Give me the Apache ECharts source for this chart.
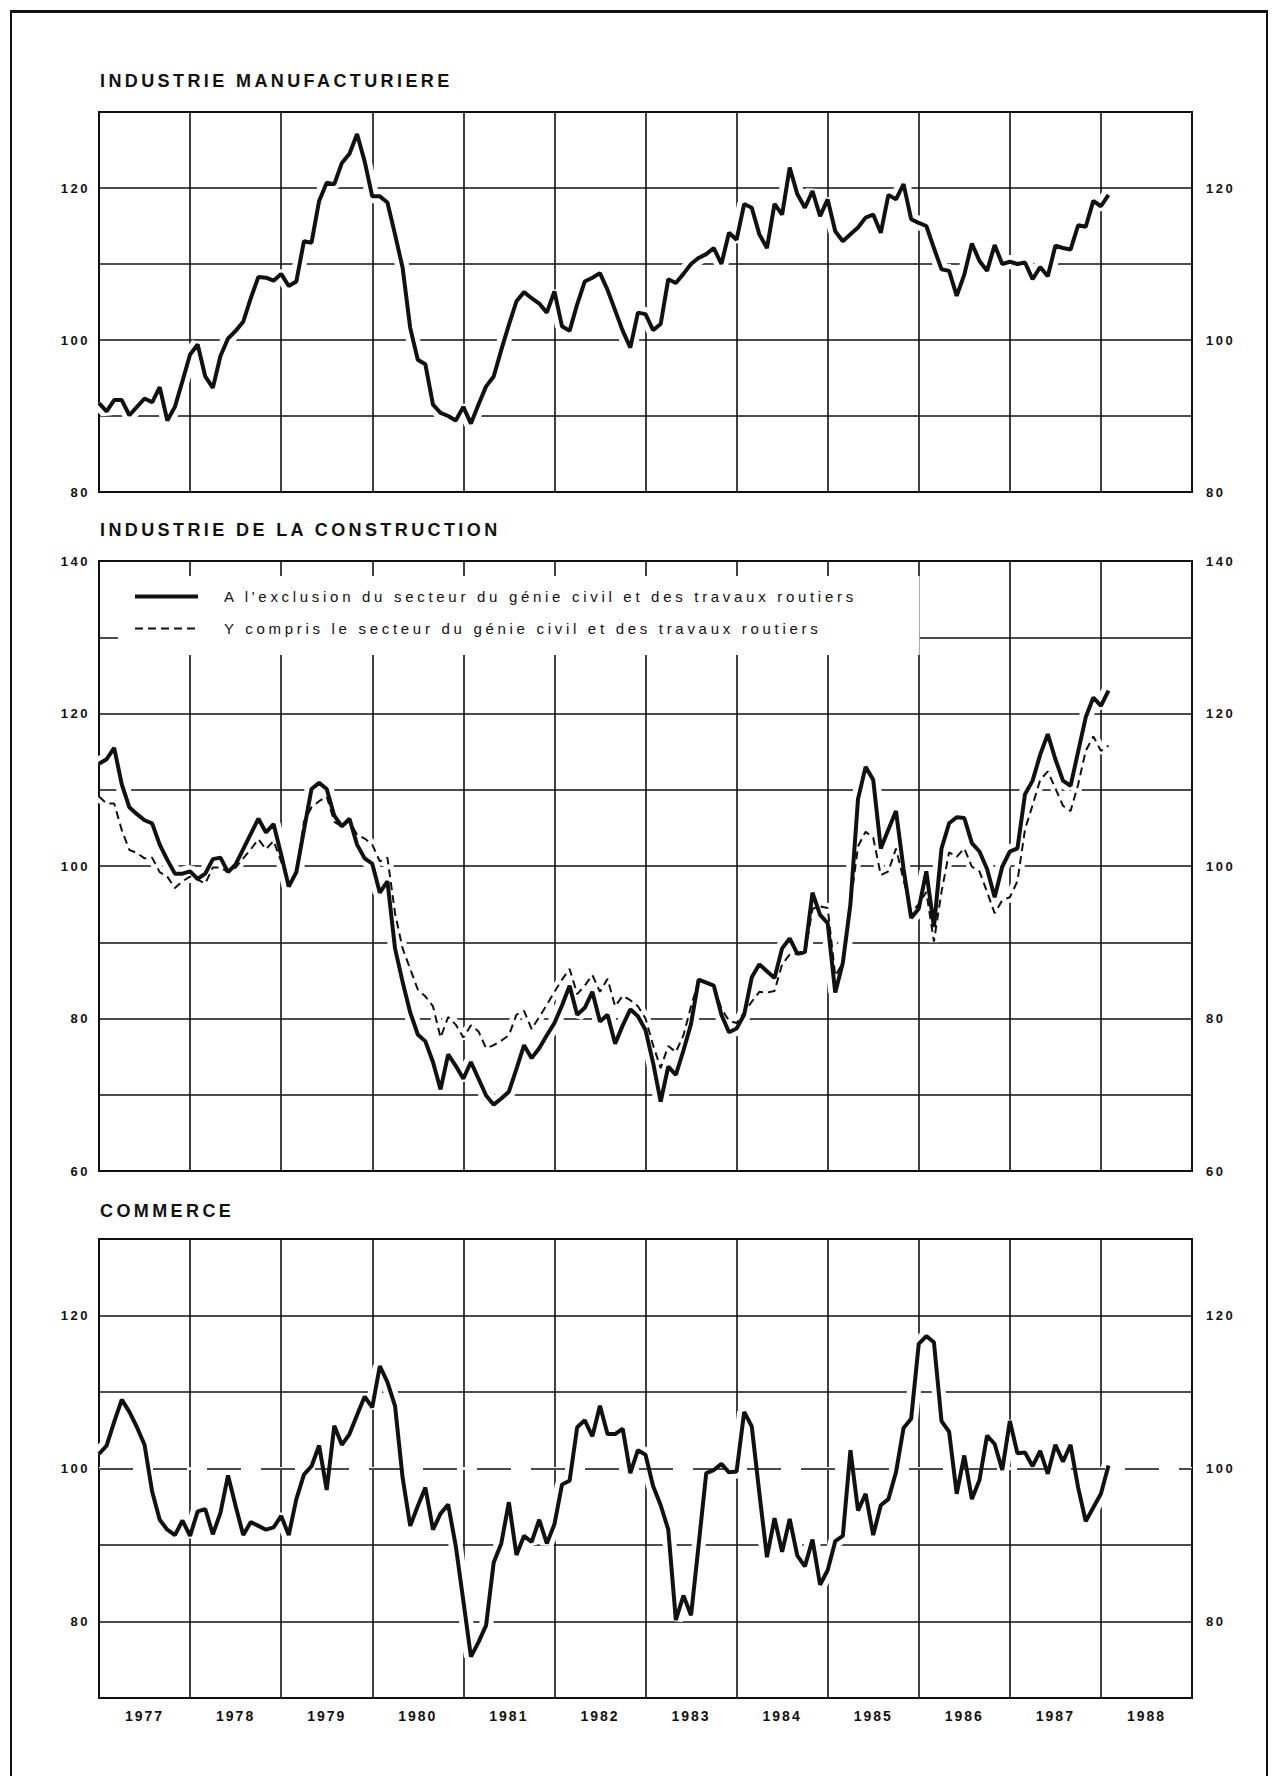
<!DOCTYPE html>
<html>
<head>
<meta charset="utf-8">
<script src="https://cdn.jsdelivr.net/npm/echarts@6/dist/echarts.min.js"></script>
<style>
html,body{margin:0;padding:0;background:#fff;}
#frame{position:absolute;left:10px;top:10px;width:1254px;height:1800px;border-top:3px solid #111;border-left:2px solid #111;border-right:2px solid #111;}
#chart{position:absolute;left:0;top:0;width:1274px;height:1776px;}
#chart text[style*="18px"]{letter-spacing:3.4px;}
#chart text[style*="15px"]{letter-spacing:3.7px;}
#chart text[style*="13px"]{letter-spacing:2.5px;}
#chart text[style*="14px"]{letter-spacing:2px;}
</style>
</head>
<body>
<div id="frame"></div>
<div id="chart"></div>
<script>
// ---- data (monthly, January 1977 .. February 1988) ----
const startYear = 1977;
const yearLabels = ['1977','1978','1979','1980','1981','1982','1983','1984','1985','1986','1987','1988'];

const titles = ['INDUSTRIE MANUFACTURIERE', 'INDUSTRIE DE LA CONSTRUCTION', 'COMMERCE'];
const legendExcl = "A l'exclusion du secteur du génie civil et des travaux routiers";
const legendIncl = "Y compris le secteur du génie civil et des travaux routiers";

const manufacturing = [
  91.7, 90.6, 92.1, 92.1, 90.1, 91.2, 92.3, 91.8, 93.8, 89.4, 91.2, 94.6,
  98.1, 99.4, 95.2, 93.7, 97.9, 100.2, 101.2, 102.4, 105.5, 108.3, 108.2, 107.8,
  108.7, 107.1, 107.7, 113.0, 112.8, 118.3, 120.7, 120.5, 123.3, 124.5, 127.1, 123.5,
  118.9, 118.9, 118.1, 113.9, 109.5, 101.6, 97.4, 96.8, 91.5, 90.4, 90.0, 89.4,
  91.2, 89.0, 91.5, 93.9, 95.2, 98.7, 102.0, 105.1, 106.3, 105.5, 104.8, 103.6,
  106.4, 101.8, 101.2, 104.7, 107.7, 108.2, 108.8, 106.6, 103.9, 101.2, 99.0, 103.6,
  103.4, 101.3, 102.1, 108.0, 107.5, 108.7, 110.0, 110.8, 111.3, 112.1, 110.0, 114.1,
  113.2, 117.9, 117.4, 113.9, 112.1, 117.9, 116.5, 122.7, 119.2, 117.4, 119.6, 116.3,
  118.5, 114.3, 113.0, 113.9, 114.8, 116.1, 116.5, 114.1, 119.1, 118.5, 120.5, 115.9,
  115.4, 115.0, 112.1, 109.3, 109.1, 105.8, 108.6, 112.7, 110.4, 109.1, 112.5, 110.0,
  110.3, 110.0, 110.2, 108.0, 109.6, 108.4, 112.4, 112.1, 111.9, 115.1, 114.9, 118.3,
  117.6, 119.1
];

const constructionExcl = [
  113.4, 114.0, 115.5, 110.7, 107.7, 106.8, 106.0, 105.6, 102.8, 100.8, 99.0, 99.0,
  99.3, 98.3, 99.0, 100.9, 101.1, 99.2, 100.2, 102.2, 104.2, 106.2, 104.4, 105.5,
  101.5, 97.3, 99.2, 104.7, 110.1, 110.9, 110.1, 106.6, 105.2, 106.2, 102.8, 101.0,
  100.3, 96.5, 98.0, 89.2, 84.8, 80.8, 77.9, 77.0, 74.3, 70.7, 75.3, 73.8,
  72.1, 74.3, 72.1, 69.9, 68.7, 69.5, 70.4, 73.4, 76.5, 74.8, 76.1, 77.8,
  79.4, 81.7, 84.3, 80.5, 81.4, 83.5, 79.6, 80.5, 76.7, 79.1, 81.2, 80.3,
  78.5, 74.2, 69.1, 73.7, 72.6, 75.8, 79.3, 85.1, 84.7, 84.3, 80.5, 78.2,
  78.7, 80.5, 85.4, 87.1, 86.2, 85.3, 89.2, 90.5, 88.5, 88.7, 96.5, 93.6,
  92.5, 83.4, 87.3, 95.0, 108.8, 113.0, 111.3, 102.3, 104.8, 107.2, 99.6, 93.2,
  94.4, 99.3, 92.0, 102.3, 105.6, 106.4, 106.3, 103.0, 101.9, 99.6, 95.9, 99.9,
  101.9, 102.3, 109.4, 111.2, 114.6, 117.3, 114.0, 111.2, 110.5, 115.0, 119.5, 122.1,
  121.0, 123.0
];

const constructionIncl = [
  109.1, 108.2, 108.2, 104.7, 102.1, 101.7, 101.0, 101.1, 99.2, 98.6, 97.1, 98.0,
  98.6, 98.2, 97.7, 99.8, 99.8, 99.2, 99.8, 101.0, 102.2, 103.5, 102.2, 103.3,
  100.6, 97.6, 99.2, 105.8, 107.7, 108.5, 109.1, 105.8, 105.2, 105.9, 104.1, 103.6,
  102.8, 100.6, 101.1, 93.8, 89.2, 86.5, 83.8, 82.9, 81.6, 77.5, 80.2, 79.2,
  77.5, 79.1, 78.3, 76.1, 76.5, 77.1, 77.8, 80.5, 81.0, 78.6, 80.2, 81.8,
  83.5, 85.1, 86.5, 83.2, 84.3, 85.7, 83.5, 85.2, 81.6, 83.0, 82.4, 81.6,
  80.0, 76.5, 73.5, 76.4, 75.6, 77.8, 81.6, 84.9, 84.7, 84.3, 81.3, 79.7,
  79.4, 80.8, 82.2, 83.5, 83.4, 83.6, 87.1, 88.4, 88.5, 88.4, 94.4, 94.7,
  94.5, 85.6, 87.3, 95.0, 102.6, 104.5, 103.7, 98.8, 99.3, 102.3, 98.2, 93.9,
  95.0, 96.6, 90.1, 96.6, 101.8, 101.2, 102.3, 99.9, 99.3, 96.6, 93.8, 95.5,
  95.9, 98.0, 104.8, 108.0, 111.3, 112.4, 110.2, 107.9, 107.2, 110.7, 115.1, 117.0,
  115.1, 115.8
];

const commerce = [
  101.9, 103.0, 106.1, 109.0, 107.4, 105.4, 103.1, 97.0, 93.3, 92.0, 91.3, 93.2,
  91.2, 94.4, 94.7, 91.4, 94.2, 99.1, 95.1, 91.3, 93.0, 92.5, 92.0, 92.3,
  93.8, 91.3, 96.0, 99.2, 100.3, 103.0, 97.2, 105.6, 103.1, 104.5, 107.0, 109.4,
  108.0, 113.4, 111.3, 108.2, 98.8, 92.5, 95.1, 97.5, 92.0, 94.1, 95.3, 89.9,
  82.7, 75.4, 77.3, 79.5, 87.7, 90.2, 95.6, 88.7, 91.2, 90.4, 93.3, 90.2,
  92.7, 97.9, 98.4, 105.4, 106.3, 104.2, 108.2, 104.5, 104.5, 105.2, 99.4, 102.4,
  101.8, 97.7, 95.2, 92.0, 80.2, 83.4, 80.8, 90.0, 99.4, 99.8, 100.6, 99.5,
  99.6, 107.4, 105.5, 96.8, 88.4, 93.5, 89.1, 93.4, 88.6, 87.2, 90.7, 84.8,
  86.7, 90.5, 91.2, 102.4, 94.5, 96.7, 91.3, 95.2, 96.0, 99.5, 105.3, 106.5,
  116.3, 117.3, 116.5, 106.2, 104.8, 96.7, 101.7, 96.0, 98.5, 104.3, 103.2, 99.8,
  106.2, 102.0, 102.1, 100.3, 102.3, 99.3, 103.1, 100.9, 103.1, 97.5, 93.1, 94.9,
  96.7, 100.4
];

const yRanges = [[80, 130], [60, 140], [70, 130]];

// ---- chart ----
const FONT = 'Liberation Sans';
const INK = '#111';
const toPts = arr => arr.map((v, i) => [i, v]);

const gridBoxes = [
  {top: 112, height: 380},
  {top: 561, height: 610},
  {top: 1239, height: 459}
];
const grid = gridBoxes.map(g => ({
  left: 99, width: 1093, top: g.top, height: g.height,
  show: true, borderColor: INK, borderWidth: 2, backgroundColor: 'transparent'
}));

const xAxis = [];
[0, 1, 2].forEach(k => {
  xAxis.push({
    type: 'value', gridIndex: k, min: 0, max: 144, interval: 12, position: 'top',
    axisLine: {show: false}, axisTick: {show: false}, axisLabel: {show: false},
    splitLine: {show: true, lineStyle: {color: INK, width: 1.6}}
  });
});
xAxis.push({
  type: 'value', gridIndex: 2, min: 0, max: 144, interval: 6, position: 'bottom',
  axisLine: {show: false}, axisTick: {show: false}, splitLine: {show: false},
  axisLabel: {
    show: true, margin: 11, color: INK, fontFamily: FONT, fontSize: 14, fontWeight: 'bold',
    formatter: v => (Math.round(v) % 12 === 6) ? yearLabels[(Math.round(v) - 6) / 12] : ''
  }
});

const yAxis = [];
yRanges.forEach((r, k) => {
  const lab = {
    show: true, color: INK, fontFamily: FONT, fontSize: 13, fontWeight: 'bold',
    formatter: v => (Math.round(v) % 20 === 0) ? String(Math.round(v)) : ''
  };
  yAxis.push({
    type: 'value', gridIndex: k, min: r[0], max: r[1], interval: 10, position: 'left',
    axisLine: {show: false}, axisTick: {show: false},
    axisLabel: Object.assign({margin: 9}, lab),
    splitLine: {show: true, lineStyle: {color: INK, width: 1.6}}
  });
  yAxis.push({
    type: 'value', gridIndex: k, min: r[0], max: r[1], interval: 10, position: 'right',
    axisLine: {show: false}, axisTick: {show: false},
    axisLabel: Object.assign({margin: 14}, lab),
    splitLine: {show: false}
  });
});

function halo(name, k, arr, w, extra) {
  return Object.assign({
    name: name, type: 'line', xAxisIndex: k, yAxisIndex: 2 * k, data: toPts(arr),
    symbol: 'none', silent: true, z: 1,
    itemStyle: {color: '#fff'},
    lineStyle: {color: '#fff', width: w}
  }, extra || {});
}
function line(name, k, arr, style, extra) {
  return Object.assign({
    name: name, type: 'line', xAxisIndex: k, yAxisIndex: 2 * k, data: toPts(arr),
    symbol: 'none', silent: true, z: 3,
    itemStyle: {color: INK},
    lineStyle: style
  }, extra || {});
}

const solidStyle = {color: INK, width: 4, type: 'solid'};
const dashStyle = {color: INK, width: 2, type: [8, 5]};

const series = [
  halo('h1', 0, manufacturing, 14),
  halo('h2a', 1, constructionExcl, 14),
  halo('h2b', 1, constructionIncl, 10),
  halo('h3', 2, commerce, 14, {
    markLine: {silent: true, symbol: 'none', z: 1, label: {show: false},
      lineStyle: {color: '#fff', width: 3, type: 'solid'}, data: [{yAxis: 100}]}
  }),
  line('Industrie manufacturière', 0, manufacturing, solidStyle),
  line(legendExcl, 1, constructionExcl, solidStyle),
  line(legendIncl, 1, constructionIncl, dashStyle),
  line('Commerce', 2, commerce, solidStyle, {
    markLine: {silent: true, symbol: 'none', z: 2, label: {show: false},
      lineStyle: {color: INK, width: 1.6, type: [34, 20]}, data: [{yAxis: 100}]}
  })
];

const chart = echarts.init(document.getElementById('chart'), null, {renderer: 'svg', width: 1274, height: 1776});
chart.setOption({
  animation: false,
  backgroundColor: 'transparent',
  title: titles.map((t, k) => ({
    text: t, left: 100, top: [72, 521, 1202][k], padding: 0,
    textStyle: {fontFamily: FONT, fontSize: 18, fontWeight: 'bold', color: INK}
  })),
  legend: {
    data: [
      {name: legendExcl, itemStyle: {opacity: 0}, lineStyle: solidStyle},
      {name: legendIncl, itemStyle: {opacity: 0}, lineStyle: dashStyle}
    ],
    orient: 'vertical', left: 118, top: 576,
    padding: [13, 295, 19, 15], itemGap: 17, itemWidth: 63, itemHeight: 14,
    backgroundColor: '#fff', selectedMode: false,
    itemStyle: {opacity: 0},
    textStyle: {fontFamily: FONT, fontSize: 15, color: INK, padding: [0, 0, 0, 21]}
  },
  grid: grid,
  xAxis: xAxis,
  yAxis: yAxis,
  series: series
});
</script>
</body>
</html>
